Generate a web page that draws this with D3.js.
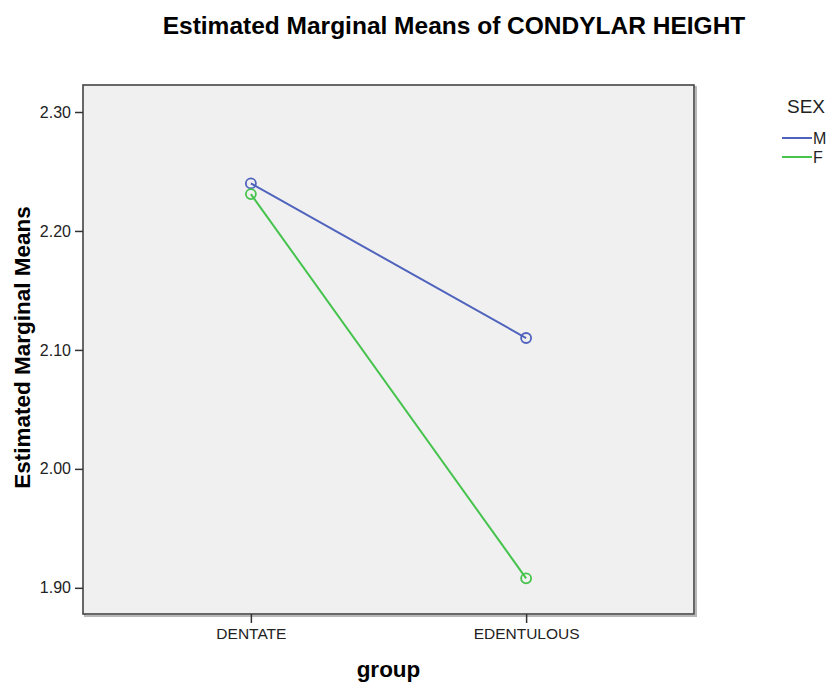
<!DOCTYPE html>
<html>
<head>
<meta charset="utf-8">
<script src="https://cdn.jsdelivr.net/npm/d3@7"></script>
<style>
  body { margin: 0; background: #fff; }
  svg { display: block; font-family: "Liberation Sans", Arial, sans-serif; }
</style>
</head>
<body>
<svg id="drawing_region"></svg>
<script>
// chart data
const groups = ["DENTATE", "EDENTULOUS"];
const sexes = ["M", "F"];
const valuesM = [2.240, 2.110];
const valuesF = [2.231, 1.908];
const yTicks = [1.90, 2.00, 2.10, 2.20, 2.30];
const colors = { M: "#4f63bd", F: "#45c34d" };

const series = [
    { name: "M", values: valuesM },
    { name: "F", values: valuesF }
];

const width = 830, height = 683;
const margin = { top: 85, right: 136, bottom: 69, left: 83 };
const innerW = width - margin.left - margin.right;
const innerH = height - margin.top - margin.bottom;

const svg = d3.select('#drawing_region')
    .attr('width', width)
    .attr('height', height);

const xscale = d3.scalePoint()
    .domain(groups)
    .range([0, innerW])
    .padding(0.61);

const yscale = d3.scaleLinear()
    .domain([1.878, 2.3227])
    .range([innerH, 0]);

// title
svg.append('text')
    .attr('x', 454)
    .attr('y', 34)
    .attr('text-anchor', 'middle')
    .attr('font-size', '24.5px')
    .attr('font-weight', 'bold')
    .attr('fill', '#000')
    .text('Estimated Marginal Means of CONDYLAR HEIGHT');

const chart = svg.append('g')
    .attr('transform', `translate(${margin.left}, ${margin.top})`);

// plot background with slight shadow on right / bottom
chart.append('rect')
    .attr('x', 2).attr('y', 2)
    .attr('width', innerW).attr('height', innerH)
    .attr('fill', 'none')
    .attr('stroke', '#b8b8b8')
    .attr('stroke-width', 2);
chart.append('rect')
    .attr('width', innerW).attr('height', innerH)
    .attr('fill', '#f0f0f0')
    .attr('stroke', '#444')
    .attr('stroke-width', 1.6);

// axes
const yaxis = d3.axisLeft(yscale)
    .tickValues(yTicks)
    .tickFormat(d3.format('.2f'))
    .tickSize(8)
    .tickPadding(4);
const yg = chart.append('g').call(yaxis);
yg.select('.domain').remove();
yg.selectAll('line').attr('stroke', '#333').attr('stroke-width', 1.5);
yg.selectAll('text').attr('font-size', '16px').attr('fill', '#222')
    .attr('font-family', '"Liberation Sans", Arial, sans-serif');

const xaxis = d3.axisBottom(xscale)
    .tickSize(9)
    .tickPadding(5);
const xg = chart.append('g')
    .attr('transform', `translate(0, ${innerH})`)
    .call(xaxis);
xg.select('.domain').remove();
xg.selectAll('line').attr('stroke', '#333').attr('stroke-width', 1.5);
xg.selectAll('text').attr('font-size', '15.5px').attr('fill', '#222')
    .attr('font-family', '"Liberation Sans", Arial, sans-serif');

// axis titles
svg.append('text')
    .attr('transform', `translate(30, ${margin.top + innerH / 2 - 2}) rotate(-90)`)
    .attr('text-anchor', 'middle')
    .attr('font-size', '22.5px')
    .attr('font-weight', 'bold')
    .text('Estimated Marginal Means');

svg.append('text')
    .attr('x', margin.left + xscale('DENTATE') / 2 + xscale('EDENTULOUS') / 2)
    .attr('y', 677)
    .attr('text-anchor', 'middle')
    .attr('font-size', '22.5px')
    .attr('font-weight', 'bold')
    .text('group');

// lines and markers
const line = d3.line()
    .x((d, i) => xscale(groups[i]))
    .y(d => yscale(d));

series.forEach(s => {
    chart.append('path')
        .datum(s.values)
        .attr('d', line)
        .attr('fill', 'none')
        .attr('stroke', colors[s.name])
        .attr('stroke-width', 2);
    chart.selectAll(null)
        .data(s.values)
        .enter()
        .append('circle')
        .attr('cx', (d, i) => xscale(groups[i]))
        .attr('cy', d => yscale(d))
        .attr('r', 5)
        .attr('fill', 'none')
        .attr('stroke', colors[s.name])
        .attr('stroke-width', 1.8);
});

// legend
const legend = svg.append('g');
legend.append('text')
    .attr('x', 806)
    .attr('y', 113)
    .attr('text-anchor', 'middle')
    .attr('font-size', '19px')
    .attr('fill', '#222')
    .text('SEX');
sexes.forEach((name, i) => {
    const y = 138 + i * 19;
    legend.append('line')
        .attr('x1', 782).attr('x2', 812)
        .attr('y1', y).attr('y2', y)
        .attr('stroke', colors[name])
        .attr('stroke-width', 2);
    legend.append('text')
        .attr('x', 813)
        .attr('y', y + 6)
        .attr('font-size', '16px')
        .attr('fill', '#222')
        .text(name);
});
</script>
</body>
</html>
